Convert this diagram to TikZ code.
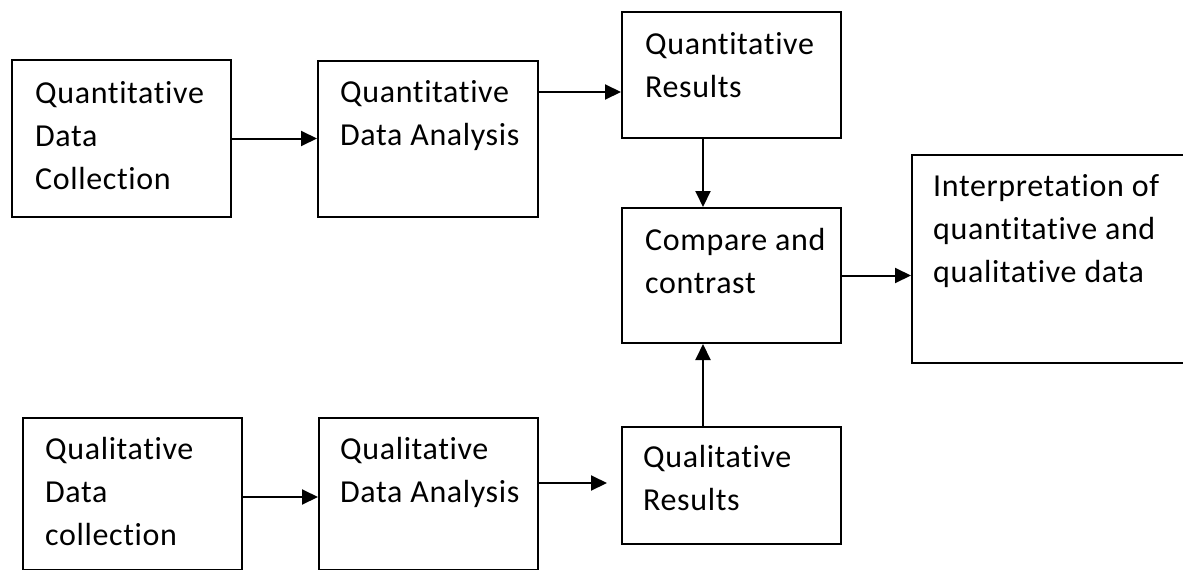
\documentclass[tikz,border=0pt]{standalone}
\usepackage{fontspec}
\setmainfont{Carlito}[Ligatures=NoCommon,LetterSpace=2]
\usetikzlibrary{arrows.meta}

\begin{document}
\begin{tikzpicture}[x=1pt,y=-1pt,
    box/.style={rectangle,draw,line width=2pt,anchor=north west,inner sep=0pt},
    txt/.style={anchor=north west,align=left,inner sep=0pt,font=\fontsize{32}{43}\selectfont},
    arr/.style={line width=2pt,-{Triangle[length=16pt,width=15pt]}}]
  \fill[white,use as bounding box] (0,0) rectangle (1183,570);
  \clip (0,0) rectangle (1183,570);
  % quantitative row
  \node (qnCollect) [box,minimum width=219pt,minimum height=157pt] at (11,59) {};
  \node (qnAnalysis) [box,minimum width=220pt,minimum height=156pt] at (317,60) {};
  \node (qnResults) [box,minimum width=219pt,minimum height=126pt] at (621,11) {};
  % middle
  \node (compare) [box,minimum width=219pt,minimum height=135pt] at (621,207) {};
  \node (interp) [box,minimum width=290pt,minimum height=208pt] at (911,154) {};
  % qualitative row
  \node (qlCollect) [box,minimum width=219pt,minimum height=152pt] at (22,417) {};
  \node (qlAnalysis) [box,minimum width=219pt,minimum height=152pt] at (318,417) {};
  \node (qlResults) [box,minimum width=219pt,minimum height=117pt] at (621,426) {};
  % texts
  \node (qnCollectTxt) [txt] at ([xshift=24pt,yshift=-22pt]qnCollect.north west) {Quantitative\\Data\\Collection};
  \node (qnAnalysisTxt) [txt] at ([xshift=23pt,yshift=-20pt]qnAnalysis.north west) {Quantitative\\Data Analysis};
  \node (qnResultsTxt) [txt] at ([xshift=24pt,yshift=-21pt]qnResults.north west) {Quantitative\\Results};
  \node (compareTxt) [txt] at ([xshift=24pt,yshift=-21pt]compare.north west) {Compare and\\contrast};
  \node (interpTxt) [txt] at ([xshift=22pt,yshift=-20pt]interp.north west) {Interpretation of\\quantitative and\\qualitative data};
  \node (qlCollectTxt) [txt] at ([xshift=23pt,yshift=-20pt]qlCollect.north west) {Qualitative\\Data\\collection};
  \node (qlAnalysisTxt) [txt] at ([xshift=22pt,yshift=-20pt]qlAnalysis.north west) {Qualitative\\Data Analysis};
  \node (qlResultsTxt) [txt] at ([xshift=22pt,yshift=-19pt]qlResults.north west) {Qualitative\\Results};
  % arrows
  \coordinate (qlEnd) at (607,483);
  \draw[arr] (qnCollect.east) -- (qnCollect.east -| qnAnalysis.west);
  \draw[arr] ([yshift=-32pt]qnAnalysis.north east) -- ([yshift=-32pt]qnAnalysis.north east -| qnResults.west);
  \draw[arr] ([xshift=82pt]qnResults.south west) -- ([xshift=82pt]qnResults.south west |- compare.north);
  \draw[arr] ([xshift=82pt]qlResults.north west) -- ([xshift=82pt]qlResults.north west |- compare.south);
  \draw[arr] (compare.east) -- (compare.east -| interp.west);
  \draw[arr] ([yshift=-80pt]qlCollect.north east) -- ([yshift=-80pt]qlCollect.north east -| qlAnalysis.west);
  \draw[arr] (qlAnalysis.east |- qlEnd) -- (qlEnd);
\end{tikzpicture}
\end{document}
